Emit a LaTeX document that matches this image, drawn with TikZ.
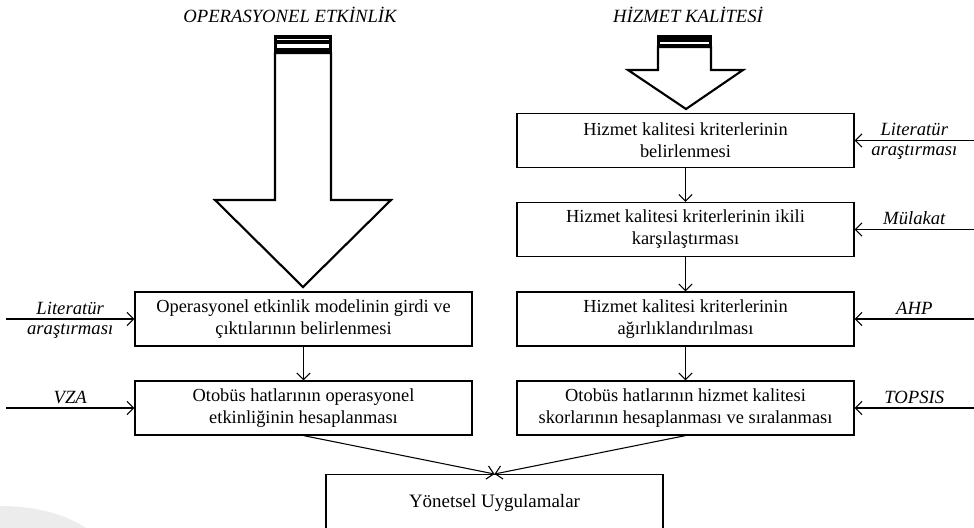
\documentclass[tikz,border=0pt]{standalone}
\usepackage{fontspec}
\setmainfont{Liberation Serif}
\usepackage{tikz}
\usetikzlibrary{arrows.meta}

\tikzset{
  stepbox/.style={draw, line width=0.9pt, minimum width=252.75pt, minimum height=40.5pt,
    align=center, font=\fontsize{13.8}{16.5}\selectfont},
  inlabel/.style={font=\fontsize{14}{16}\selectfont\itshape, inner sep=2pt},
  flow/.style={->, >={Straight Barb[length=5pt,width=10pt]}, line width=0.8pt},
  bigarrow/.style={draw, line width=1.6pt, fill=white, line join=miter}
}

\begin{document}
\begin{tikzpicture}[x=0.75pt, y=-0.75pt]
\useasboundingbox (0,0) rectangle (974,528);
\fill[gray!15] (0,506) .. controls (35,506) and (65,514) .. (86,528) -- (0,528) -- cycle;

% titles
\node[inlabel] (opTitle) at (290,15) {OPERASYONEL ETKİNLİK};
\node[inlabel] (hkTitle) at (688,15) {HİZMET KALİTESİ};

% big arrows
\draw[bigarrow] (275,53) -- (275,200) -- (215,200) -- (303,287) -- (391,200) -- (331,200) -- (331,53) -- cycle;
\fill[black] (274.2,35) rectangle (331.8,53);
\draw[white, line width=0.6pt] (277,39.5) -- (329,39.5);
\fill[white] (277,44.5) rectangle (329,48.5);

\draw[bigarrow] (658,47) -- (658,70) -- (628,70) -- (686,109) -- (743,70) -- (711,70) -- (711,47) -- cycle;
\fill[black] (657.2,35) rectangle (711.8,47);
\fill[white] (660,42) rectangle (709,44.5);

% boxes
\node[stepbox] (opInput) at (303.5,319) {Operasyonel etkinlik  modelinin girdi ve\\çıktılarının  belirlenmesi};
\node[stepbox] (opCalc) at (303.5,408) {Otobüs hatlarının operasyonel\\etkinliğinin  hesaplanması};
\node[stepbox] (hkCrit) at (685.5,140.5) {Hizmet kalitesi  kriterlerinin\\belirlenmesi};
\node[stepbox] (hkPair) at (685.5,229.5) {Hizmet kalitesi  kriterlerinin ikili\\karşılaştırması};
\node[stepbox] (hkWeight) at (685.5,319) {Hizmet kalitesi  kriterlerinin\\ağırlıklandırılması};
\node[stepbox] (hkScore) at (685.5,408) {Otobüs hatlarının hizmet kalitesi\\skorlarının hesaplanması ve  sıralanması};
\node[stepbox, anchor=north, minimum height=60pt, text depth=21pt, font=\fontsize{14.2}{16}\selectfont] (mgmt) at (494.5,474) {Yönetsel Uygulamalar};

% flow between boxes
\draw[flow] (opInput) -- (opCalc);
\draw[flow] (hkCrit) -- (hkPair);
\draw[flow] (hkPair) -- (hkWeight);
\draw[flow] (hkWeight) -- (hkScore);
\draw[flow] (opCalc.south) -- (mgmt.north);
\draw[flow] (hkScore.south) -- (mgmt.north);

% method inputs
\coordinate (litL) at (6,319);
\coordinate (vzaL) at (6,408);
\coordinate (litR) at (974,140.5);
\coordinate (mulR) at (974,229.5);
\coordinate (ahpR) at (974,319);
\coordinate (topR) at (974,408);
\draw[flow] (litL) -- (opInput) node[midway, above=1pt, inlabel] {Literatür} node[midway, below=1pt, inlabel] {araştırması};
\draw[flow] (vzaL) -- (opCalc) node[midway, above=1pt, inlabel] {VZA};
\draw[flow] (litR) -- (hkCrit) node[midway, above=1pt, inlabel] {Literatür} node[midway, below=1pt, inlabel] {araştırması};
\draw[flow] (mulR) -- (hkPair) node[midway, above=1pt, inlabel] {Mülakat};
\draw[flow] (ahpR) -- (hkWeight) node[midway, above=1pt, inlabel] {AHP};
\draw[flow] (topR) -- (hkScore) node[midway, above=1pt, inlabel] {TOPSIS};
\end{tikzpicture}
\end{document}
